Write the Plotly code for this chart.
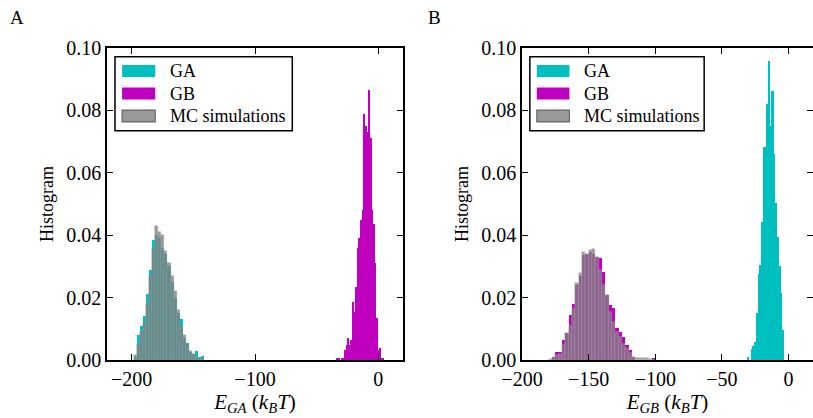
import numpy as np
import plotly.graph_objects as go

# ---- panel A: E_GA ----
a_ga_start, a_ga_width = -198.5, 2.5
a_ga = [0.001, 0.008, 0.011, 0.014, 0.021, 0.029, 0.0385, 0.040, 0.039, 0.036,
        0.034, 0.030, 0.025, 0.020, 0.015, 0.013, 0.007, 0.0055, 0.0026, 0.002,
        0.0028, 0.001, 0.0012]
a_mc = [0.0016, 0.005, 0.009, 0.012, 0.018, 0.027, 0.036, 0.043, 0.041, 0.040,
        0.035, 0.031, 0.027, 0.022, 0.016, 0.011, 0.008, 0.005, 0.003, 0.002,
        0.001, 0.0005, 0.0003]
a_gb_start, a_gb_width = -33.7, 1.28
a_gb = [0.0006, 0.0006, 0, 0.0006, 0.0006, 0.0032, 0.0048, 0.007, 0.0048, 0.0064,
        0.0187, 0.0155, 0.0235, 0.036, 0.039, 0.045, 0.048, 0.079, 0.075, 0.073,
        0.0865, 0.071, 0.048, 0.0436, 0.031, 0.0135, 0.0032, 0.004, 0.0006, 0.0006]

# ---- panel B: E_GB ----
b_gb_start, b_gb_width = -180.0, 2.5
b_gb = [0, 0.001, 0.0025, 0.0025, 0.0064, 0.0085, 0.0144, 0.018, 0.024, 0.027,
        0.0337, 0.034, 0.0345, 0.034, 0.033, 0.0326, 0.0283, 0.0208, 0.0176, 0.0166,
        0.0102, 0.0091, 0.0075, 0.0048, 0.0032, 0.001, 0, 0, 0, 0, 0, 0.0004]
b_mc = [0.0003, 0.0005, 0.0015, 0.002, 0.0048, 0.0085, 0.011, 0.0165, 0.0246, 0.028,
        0.0347, 0.034, 0.0353, 0.0355, 0.033, 0.029, 0.024, 0.0208, 0.0155, 0.0123,
        0.009, 0.0075, 0.005, 0.0038, 0.0021, 0.001, 0.0005, 0.0005, 0.0005, 0.0005,
        0.0003, 0]
b_ga_start, b_ga_width = -30.7, 1.3
b_ga = [0.001, 0.0, 0.0035, 0.0045, 0.0058, 0.0152, 0.0277, 0.0304, 0.0443, 0.0684,
        0.0684, 0.082, 0.0959, 0.075, 0.0862, 0.066, 0.0504, 0.0395, 0.030, 0.0215,
        0.0096]

x_ticks_a = [-200, -100, 0]
x_ticks_b = [-200, -150, -100, -50, 0]
y_ticks = [0.0, 0.02, 0.04, 0.06, 0.08, 0.10]

CYAN = "#00BFBF"
MAGENTA = "#BF00BF"
GRAY = "#808080"
FONT = "Liberation Serif"

W, H, TOP, BOT = 813, 418, 48, 58
PLOT_H = H - TOP - BOT


def centers(start, width, vals):
    return start + width * (np.arange(len(vals)) + 0.5)


def hist(start, width, vals, color, xa, ya, opacity=1.0, edge=None):
    return go.Bar(
        x=centers(start, width, vals), y=vals, width=width,
        marker=dict(color=color, opacity=opacity,
                    line=dict(width=0.5 if edge else 0, color=edge or color)),
        xaxis=xa, yaxis=ya, showlegend=False, hoverinfo="skip",
    )


fig = go.Figure()
fig.add_trace(hist(a_ga_start, a_ga_width, a_ga, CYAN, "x", "y"))
fig.add_trace(hist(a_gb_start, a_gb_width, a_gb, MAGENTA, "x", "y"))
fig.add_trace(hist(a_ga_start, a_ga_width, a_mc, GRAY, "x", "y", 0.8, "#9a9a9a"))
fig.add_trace(hist(b_ga_start, b_ga_width, b_ga, CYAN, "x2", "y2"))
fig.add_trace(hist(b_gb_start, b_gb_width, b_gb, MAGENTA, "x2", "y2"))
fig.add_trace(hist(b_gb_start, b_gb_width, b_mc, GRAY, "x2", "y2", 0.8, "#a8a8a8"))

axis_style = dict(
    showgrid=False, zeroline=False, showline=True, linecolor="black", linewidth=1.5,
    mirror="ticks", ticks="inside", ticklen=6, tickwidth=1, tickcolor="black",
    automargin=False,
    tickfont=dict(family=FONT, size=20, color="black"),
)
xlab = "<i>E</i><sub><i>{}</i></sub> (<i>k</i><sub><i>B</i></sub><i>T</i>)"

fig.update_layout(
    width=W, height=H,
    margin=dict(l=0, r=0, t=TOP, b=BOT),
    paper_bgcolor="white", plot_bgcolor="white",
    barmode="overlay", bargap=0,
    font=dict(family=FONT, color="black"),
    xaxis=dict(axis_style, domain=[107 / W, 403 / W], range=[-220, 20],
               tickvals=x_ticks_a, anchor="y",
               title=dict(text=xlab.format("GA"), font=dict(size=21), standoff=2)),
    yaxis=dict(axis_style, domain=[0, 1], range=[0, 0.1], tickvals=y_ticks,
               tickformat=".2f", anchor="x",
               title=dict(text="Histogram", font=dict(size=18), standoff=8)),
    xaxis2=dict(axis_style, domain=[522 / W, 1.0], range=[-200, 18.3],
                tickvals=x_ticks_b, anchor="y2",
                title=dict(text=xlab.format("GB"), font=dict(size=21), standoff=2)),
    yaxis2=dict(axis_style, domain=[0, 1], range=[0, 0.1], tickvals=y_ticks,
                tickformat=".2f", anchor="x2",
                title=dict(text="Histogram", font=dict(size=18), standoff=8)),
)

# panel letters
for letter, px in (("A", 17), ("B", 434)):
    fig.add_annotation(text=letter, x=px / W, y=1 + (TOP - 18) / PLOT_H,
                       xref="paper", yref="paper", showarrow=False,
                       xanchor="center", yanchor="middle", font=dict(size=19))

# legends drawn by hand (matplotlib-style wide patches)
legend_items = [("GA", CYAN, None, 1.0), ("GB", MAGENTA, None, 1.0),
                ("MC simulations", GRAY, "#404040", 0.8)]
for xd, yd in (("x domain", "y domain"), ("x2 domain", "y2 domain")):
    fig.add_shape(type="rect", xref=xd, yref=yd, x0=0.027, x1=0.626, y0=0.735, y1=0.972,
                  line=dict(color="black", width=1.5), fillcolor="white", layer="above")
    for i, (name, col, edge, op) in enumerate(legend_items):
        yc = (360 - (71 + 22.5 * i)) / PLOT_H
        fig.add_shape(type="rect", xref=xd, yref=yd, x0=0.051, x1=0.163,
                      y0=yc - 0.019, y1=yc + 0.019, fillcolor=col, opacity=op,
                      line=dict(color=edge or col, width=1.2 if edge else 0), layer="above")
        fig.add_annotation(text=name, xref=xd, yref=yd, x=0.205, y=yc, xanchor="left",
                           yanchor="middle", showarrow=False, font=dict(size=18))

fig.write_html("out.html", config={"displayModeBar": False},
               post_script="document.body.style.margin='0';")
